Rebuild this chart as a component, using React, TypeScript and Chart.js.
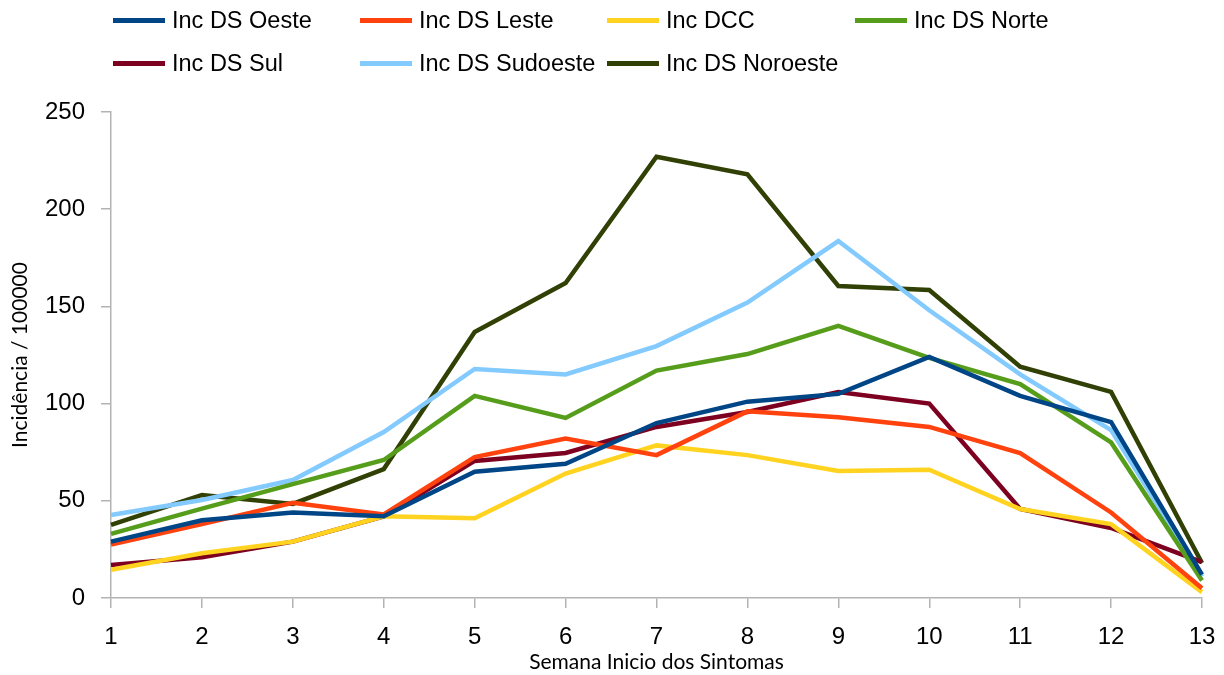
import React, { useEffect, useRef } from "react";
import { Chart, registerables } from "chart.js";

Chart.register(...registerables);

const weeks = ["1", "2", "3", "4", "5", "6", "7", "8", "9", "10", "11", "12", "13"];
const oeste = [29, 40, 44, 42, 65, 69, 90, 101, 105, 124, 104, 90.5, 12];
const leste = [27.5, 38, 49, 43, 72.5, 82, 73.5, 96, 93, 88, 74.5, 44, 5];
const dcc = [14.5, 23, 29, 42, 41, 64, 78.5, 73.5, 65.3, 66, 45.8, 38, 3];
const norte = [33, 46, 58.6, 71, 104, 92.6, 117, 125.5, 140, 123.5, 110, 80, 9];
const sul = [17, 21, 29, 42, 70.5, 74.6, 88, 95.7, 106, 100, 45.8, 36, 18.5];
const sudoeste = [42.7, 50.4, 60.7, 85.4, 117.8, 115, 129.6, 152, 183.6, 148, 115, 86.4, 11];
const noroeste = [37.6, 53, 48.4, 66.3, 136.8, 162, 227, 218, 160.5, 158.4, 119, 106, 18];

const seriesNames = [
  "Inc DS Oeste",
  "Inc DS Leste",
  "Inc DCC",
  "Inc DS Norte",
  "Inc DS Sul",
  "Inc DS Sudoeste",
  "Inc DS Noroeste",
];
const seriesData = [oeste, leste, dcc, norte, sul, sudoeste, noroeste];
const seriesColors = ["#004586", "#ff420e", "#ffd320", "#579d1c", "#7e0021", "#83caff", "#314004"];

const yTicks = [0, 50, 100, 150, 200, 250];

const FONT = "'Liberation Sans', Arial, sans-serif";
const TITLE_FONT = "Lato, 'Open Sans', sans-serif";
const AXIS_COLOR = "#b3b3b3";

export default function App() {
  const canvasRef = useRef<HTMLCanvasElement | null>(null);

  useEffect(() => {
    const canvas = canvasRef.current;
    if (!canvas) return;
    const chart = new Chart(canvas, {
      type: "line",
      data: {
        labels: weeks,
        datasets: seriesNames.map((name, i) => ({
          label: name,
          data: seriesData[i],
          borderColor: seriesColors[i],
          backgroundColor: seriesColors[i],
          borderWidth: 4.5,
          pointRadius: 0,
          tension: 0,
          fill: false,
        })),
      },
      options: {
        animation: false,
        responsive: false,
        maintainAspectRatio: false,
        layout: { padding: { left: 0, right: 22, top: 112, bottom: 0 } },
        plugins: {
          legend: { display: false },
          tooltip: { enabled: false },
        },
        scales: {
          x: {
            offset: false,
            afterFit: (scale: any) => {
              scale.height = 77;
              scale.paddingLeft = 0;
              scale.paddingRight = 0;
            },
            grid: {
              display: true,
              drawOnChartArea: false,
              drawTicks: true,
              tickLength: 10,
              color: AXIS_COLOR,
              lineWidth: 1.5,
            },
            border: { display: true, color: AXIS_COLOR, width: 1.5 },
            ticks: {
              color: "#000",
              font: { family: FONT, size: 24 },
              padding: 15,
              maxRotation: 0,
              autoSkip: false,
            },
            title: {
              display: true,
              text: "Semana Inicio dos Sintomas",
              color: "#000",
              font: { family: TITLE_FONT, size: 21 },
              padding: { top: 0, bottom: 0 },
            },
          },
          y: {
            min: 0,
            max: 250,
            afterFit: (scale: any) => {
              scale.width = 111;
              scale.paddingTop = 0;
              scale.paddingBottom = 0;
            },
            afterBuildTicks: (scale: any) => {
              scale.ticks = yTicks.map((v) => ({ value: v }));
            },
            grid: {
              display: true,
              drawOnChartArea: false,
              drawTicks: true,
              tickLength: 10,
              color: AXIS_COLOR,
              lineWidth: 1.5,
            },
            border: { display: true, color: AXIS_COLOR, width: 1.5 },
            ticks: {
              color: "#000",
              font: { family: FONT, size: 24 },
              padding: 16,
            },
            title: {
              display: true,
              text: "Incidência / 100000",
              color: "#000",
              font: { family: TITLE_FONT, size: 21 },
              padding: { top: 8, bottom: 0 },
            },
          },
        },
      },
    });
    return () => chart.destroy();
  }, []);

  const legendCols = [113, 360, 607, 855];
  const legendRows = [20, 63];

  return (
    <div style={{ position: "absolute", left: 0, top: 0, width: 1224, height: 675, background: "#fff" }}>
      <canvas ref={canvasRef} width={1224} height={675} style={{ position: "absolute", left: 0, top: 0 }} />
      {seriesNames.map((name, i) => {
        const col = i % 4;
        const row = Math.floor(i / 4);
        return (
          <div
            key={name}
            style={{
              position: "absolute",
              left: legendCols[col],
              top: legendRows[row] - 14,
              height: 28,
              display: "flex",
              alignItems: "center",
              whiteSpace: "nowrap",
              fontFamily: FONT,
              fontSize: 23.5,
              color: "#000",
            }}
          >
            <span
              style={{
                display: "inline-block",
                width: 52,
                height: 5,
                background: seriesColors[i],
                marginRight: 7,
              }}
            />
            <span>{name}</span>
          </div>
        );
      })}
    </div>
  );
}
